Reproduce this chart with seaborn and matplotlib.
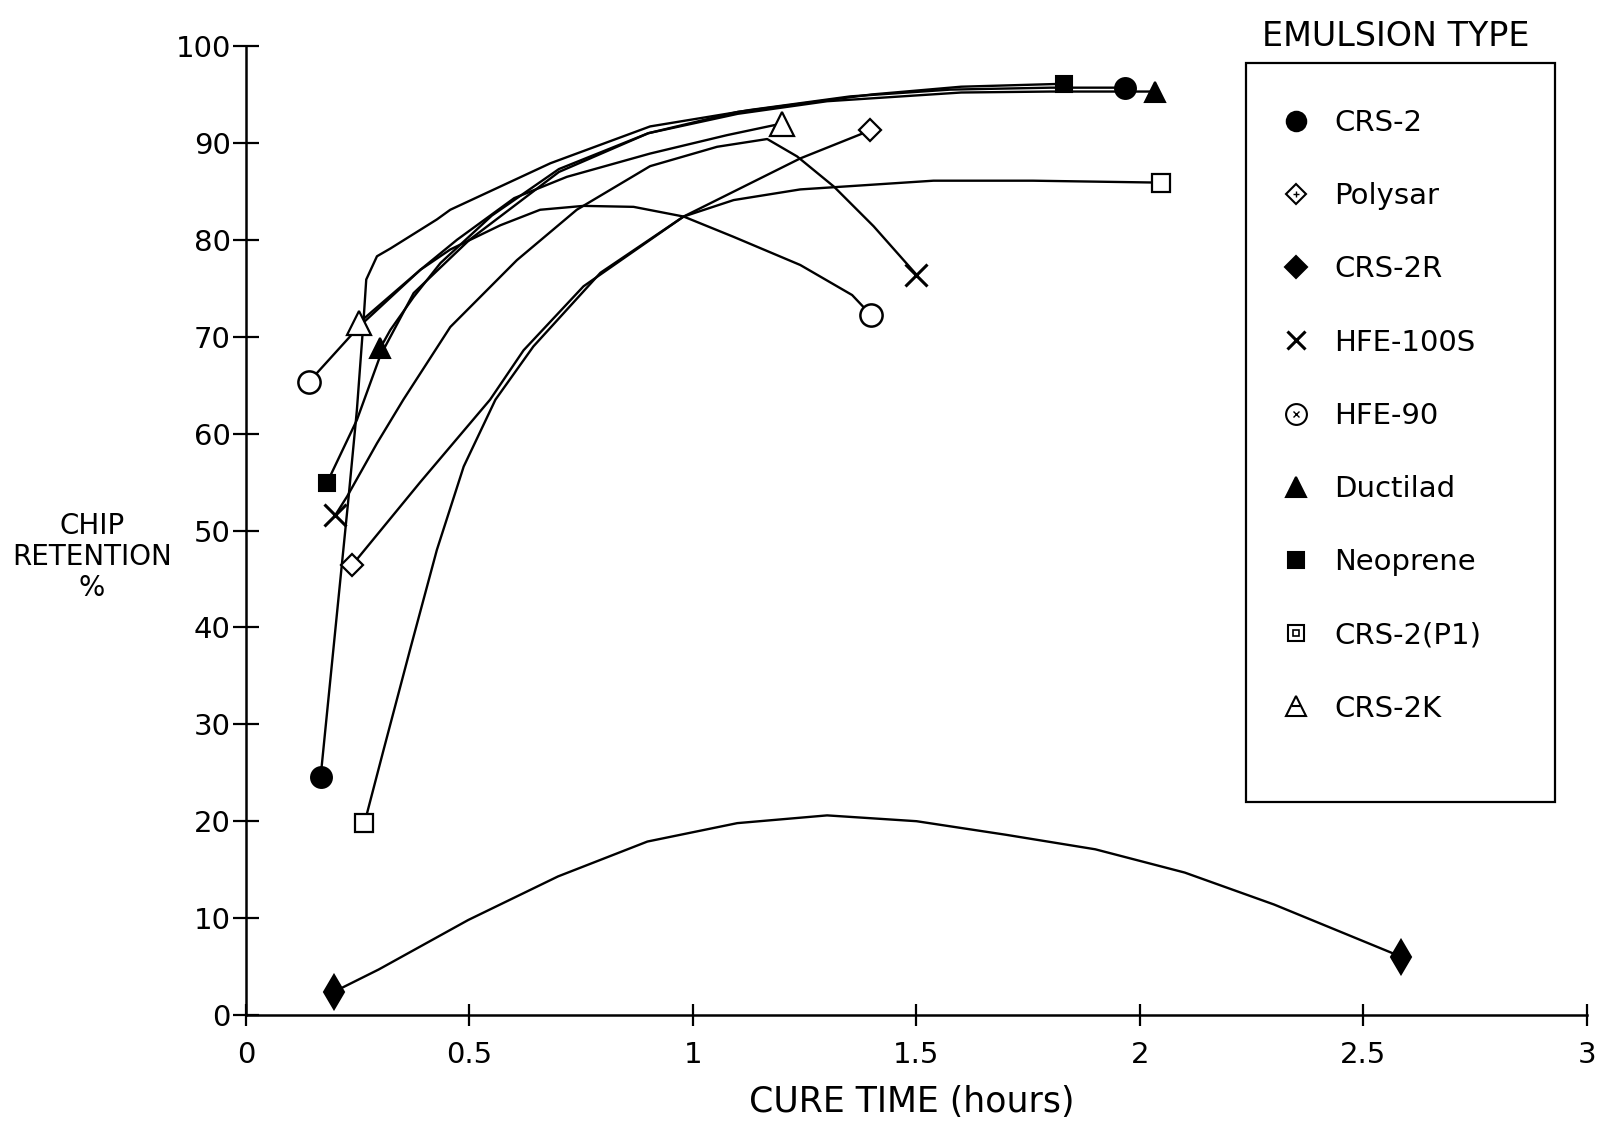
import matplotlib
matplotlib.use("Agg")
import matplotlib.pyplot as plt
import seaborn as sns
import pandas as pd
from matplotlib.lines import Line2D
from matplotlib.legend_handler import HandlerTuple
from matplotlib.patches import Rectangle

# ---------------- data ----------------
series_names = ["CRS-2", "Polysar", "CRS-2R", "HFE-100S", "HFE-90",
                "Ductilad", "Neoprene", "CRS-2(P1)", "CRS-2K"]

crs2_x = [0.167, 0.229, 0.248, 0.263, 0.269, 0.293, 0.323, 0.427, 0.457, 0.681, 0.904, 1.128, 1.352, 1.576, 1.80, 1.967]
crs2_y = [24.6, 53.2, 62.4, 71.7, 75.9, 78.3, 79.1, 82.1, 83.1, 87.9, 91.7, 93.4, 94.8, 95.5, 95.7, 95.7]

polysar_x = [0.237, 0.39, 0.546, 0.621, 0.755, 0.979, 1.24, 1.397]
polysar_y = [46.4, 55.0, 63.5, 68.6, 75.2, 82.4, 88.4, 91.3]

crs2r_x = [0.197, 0.297, 0.497, 0.698, 0.898, 1.099, 1.30, 1.50, 1.70, 1.90, 2.10, 2.30, 2.585]
crs2r_y = [2.4, 4.7, 9.8, 14.3, 17.9, 19.8, 20.6, 20.0, 18.6, 17.1, 14.7, 11.4, 6.0]

hfe100s_x = [0.200, 0.226, 0.293, 0.352, 0.457, 0.606, 0.740, 0.904, 1.054, 1.166, 1.233, 1.315, 1.404, 1.500]
hfe100s_y = [51.6, 53.5, 59.0, 63.5, 71.0, 77.9, 83.1, 87.6, 89.6, 90.4, 88.6, 85.5, 81.4, 76.4]

hfe90_x = [0.140, 0.252, 0.390, 0.457, 0.569, 0.658, 0.755, 0.867, 0.979, 1.091, 1.240, 1.356, 1.399]
hfe90_y = [65.3, 71.0, 76.9, 79.0, 81.5, 83.1, 83.5, 83.4, 82.4, 80.3, 77.4, 74.3, 72.2]

ductilad_x = [0.300, 0.323, 0.375, 0.435, 0.550, 0.700, 0.900, 1.100, 1.300, 1.600, 1.800, 2.033]
ductilad_y = [68.8, 70.7, 74.1, 77.6, 82.5, 87.3, 91.0, 93.0, 94.3, 95.2, 95.3, 95.3]

neoprene_x = [0.181, 0.248, 0.300, 0.375, 0.500, 0.700, 0.900, 1.100, 1.400, 1.600, 1.829]
neoprene_y = [54.9, 61.4, 68.0, 74.5, 80.0, 87.0, 91.0, 93.2, 95.0, 95.8, 96.1]

p1_x = [0.265, 0.308, 0.367, 0.427, 0.487, 0.558, 0.643, 0.793, 0.979, 1.091, 1.240, 1.538, 1.760, 2.047]
p1_y = [19.8, 27.4, 37.7, 48.0, 56.6, 63.5, 69.0, 76.6, 82.4, 84.1, 85.2, 86.1, 86.1, 85.9]

crs2k_x = [0.252, 0.390, 0.472, 0.600, 0.718, 0.904, 1.076, 1.199]
crs2k_y = [71.4, 76.9, 80.0, 84.3, 86.5, 88.9, 90.8, 92.0]

x_ticks = [0, 0.5, 1, 1.5, 2, 2.5, 3]
x_tick_labels = ["0", "0.5", "1", "1.5", "2", "2.5", "3"]
y_ticks = list(range(0, 101, 10))

series_xy = {
    "CRS-2": (crs2_x, crs2_y),
    "Polysar": (polysar_x, polysar_y),
    "CRS-2R": (crs2r_x, crs2r_y),
    "HFE-100S": (hfe100s_x, hfe100s_y),
    "HFE-90": (hfe90_x, hfe90_y),
    "Ductilad": (ductilad_x, ductilad_y),
    "Neoprene": (neoprene_x, neoprene_y),
    "CRS-2(P1)": (p1_x, p1_y),
    "CRS-2K": (crs2k_x, crs2k_y),
}

# ---------------- styles ----------------
styles = {
    "CRS-2":     dict(marker="o", ms=15, mfc="black", mew=1.5),
    "Polysar":   dict(marker="D", ms=11, mfc="white", mew=1.6),
    "CRS-2R":    dict(marker="d", ms=17, mfc="black", mew=1.5),
    "HFE-100S":  dict(marker="x", ms=16, mfc="black", mew=2.2),
    "HFE-90":    dict(marker="o", ms=16, mfc="white", mew=1.8),
    "Ductilad":  dict(marker="^", ms=15, mfc="black", mew=1.5),
    "Neoprene":  dict(marker="s", ms=12, mfc="black", mew=1.5),
    "CRS-2(P1)": dict(marker="s", ms=13, mfc="white", mew=1.6),
    "CRS-2K":    dict(marker="^", ms=17, mfc="white", mew=1.6),
}

sns.set_style("ticks")
plt.rcParams["font.family"] = ["DejaVu Sans"]
plt.rcParams["text.color"] = "black"
plt.rcParams["axes.labelcolor"] = "black"
plt.rcParams["xtick.color"] = "black"
plt.rcParams["ytick.color"] = "black"

W, H = 1606, 1127
fig = plt.figure(figsize=(W / 100, H / 100), dpi=100)
ax = fig.add_axes([246 / W, 1 - 1015 / H, (1587 - 246) / W, (1015 - 46) / H])

rows = []
for name in series_names:
    xs, ys = series_xy[name]
    for i, (xv, yv) in enumerate(zip(xs, ys)):
        rows.append(dict(series=name, order=i, time=xv, ret=yv))
df = pd.DataFrame(rows)

for k, name in enumerate(series_names):
    sub = df[df["series"] == name].sort_values("order")
    st = styles[name]
    sns.lineplot(data=sub, x="time", y="ret", sort=False, estimator=None,
                 color="black", lw=1.7, ax=ax, marker=st["marker"],
                 markersize=st["ms"], markerfacecolor=st["mfc"],
                 markeredgecolor="black", markeredgewidth=st["mew"],
                 markevery=[0, len(sub) - 1], zorder=3 + k, legend=False)

ax.set_xlim(0, 3)
ax.set_ylim(0, 100)
ax.set_xticks(x_ticks)
ax.set_xticklabels(x_tick_labels)
ax.set_yticks(y_ticks)
ax.set_xlabel("")
ax.set_ylabel("")
sns.despine(ax=ax)
for sp in ["left", "bottom"]:
    ax.spines[sp].set_linewidth(1.8)
    ax.spines[sp].set_color("black")
ax.tick_params(axis="y", direction="inout", length=19, width=1.6, labelsize=21,
               pad=1.5, colors="black", labelcolor="black")
ax.tick_params(axis="x", direction="inout", length=16, width=1.6, labelsize=21,
               pad=11, colors="black", labelcolor="black")

fig.text(912 / W, 1 - 1102 / H, "CURE TIME (hours)", ha="center", va="center",
         fontsize=25, color="black")
fig.text(92 / W, 1 - 557 / H, "CHIP\nRETENTION\n%", ha="center", va="center",
         fontsize=20, linespacing=1.15, color="black")

# ---------------- legend ----------------
def mk(marker, ms, mfc, mew=1.5):
    return Line2D([], [], ls="none", marker=marker, markersize=ms,
                  markerfacecolor=mfc, markeredgecolor="black", markeredgewidth=mew)

handles = [
    mk("o", 14, "black"),
    (mk("D", 10, "white", 1.5), mk("+", 5, "black", 1.0)),
    mk("D", 11, "black"),
    mk("x", 13, "black", 2.2),
    (mk("o", 15, "white", 1.5), mk("x", 4, "black", 1.0)),
    mk("^", 14, "black"),
    mk("s", 11, "black"),
    (mk("s", 11, "white", 1.5), mk("s", 5, "white", 1.2)),
    (mk("^", 15, "white", 1.5), mk("_", 6, "black", 1.5)),
]
leg = fig.legend(handles, series_names, loc="upper left",
                 bbox_to_anchor=(1281 / W, 1 - 109 / H), frameon=False,
                 fontsize=21, handlelength=1.0, handletextpad=0.82,
                 labelspacing=1.55, borderpad=0, borderaxespad=0,
                 handler_map={tuple: HandlerTuple(ndivide=1, pad=0)})
for t in leg.get_texts():
    t.set_color("black")

fig.patches.append(Rectangle((1246 / W, 1 - 802 / H), (1555 - 1246) / W, (802 - 63) / H,
                             transform=fig.transFigure, fill=False, lw=1.6,
                             edgecolor="black"))
fig.text(1396 / W, 1 - 36 / H, "EMULSION TYPE", ha="center", va="center",
         fontsize=24, color="black")

fig.savefig("out.png", dpi=100, facecolor="white")
